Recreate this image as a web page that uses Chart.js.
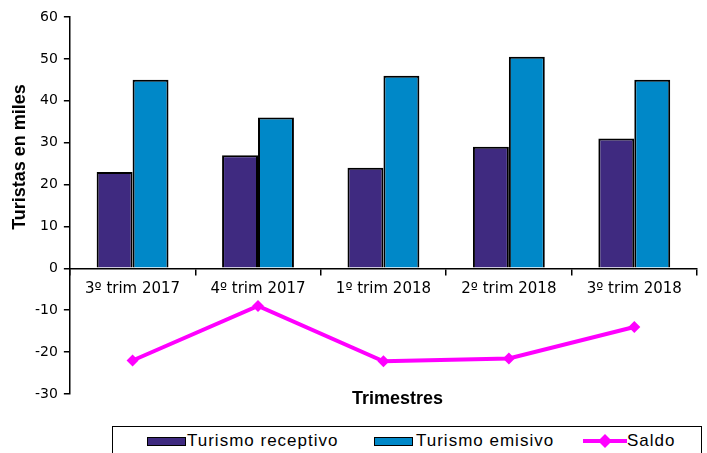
<!DOCTYPE html>
<html><head><meta charset="utf-8">
<script src="https://cdn.jsdelivr.net/npm/chart.js@4/dist/chart.umd.min.js"></script>
<style>
html,body{margin:0;padding:0;background:#fff;overflow:hidden;}
#wrap{position:relative;width:707px;height:453px;overflow:hidden;}
#c{position:absolute;left:0;top:0;}
#legend{position:absolute;left:112px;top:426px;width:590px;height:40px;border:1px solid #000;box-sizing:border-box;font-family:"Liberation Sans",Arial,sans-serif;font-size:17px;letter-spacing:1px;color:#000;background:#fff;}
.sw{position:absolute;top:10px;width:39px;height:9px;border:1px solid #000;box-sizing:border-box;}
.lt{position:absolute;top:5px;line-height:17px;white-space:nowrap;}
#sl{position:absolute;left:470px;top:7px;}
</style></head>
<body>
<div id="wrap">
<canvas id="c" width="707" height="453"></canvas>
<div id="legend">
  <div class="sw" id="sw1" style="left:34px;"></div><div class="lt" id="lt1" style="left:74px;"></div>
  <div class="sw" id="sw2" style="left:261px;"></div><div class="lt" id="lt2" style="left:303px;"></div>
  <svg id="sl" width="44" height="14"><line x1="0" y1="7" x2="44" y2="7" stroke="#FF00FF" stroke-width="4"/><polygon points="22,0 29,7 22,14 15,7" fill="#FF00FF"/></svg>
  <div class="lt" id="lt3" style="left:514px;"></div>
</div>
</div>
<script>
const categories = ['3º trim 2017','4º trim 2017','1º trim 2018','2º trim 2018','3º trim 2018'];
const seriesNames = ['Turismo receptivo','Turismo emisivo','Saldo'];
const receptivo = [23, 27, 24, 29, 31];
const emisivo = [45, 36, 46, 50.5, 45];
const saldo = [-22, -9, -22.2, -21.5, -14];
const yMin = -30, yMax = 60, yStep = 10;
const xTitle = 'Trimestres';
const yTitle = 'Turistas en miles';
const colors = ['#3F2A80', '#0088C8', '#FF00FF'];

document.getElementById('sw1').style.background = colors[0];
document.getElementById('sw2').style.background = colors[1];
document.getElementById('lt1').textContent = seriesNames[0];
document.getElementById('lt2').textContent = seriesNames[1];
document.getElementById('lt3').textContent = seriesNames[2];

const titlesPlugin = {
  id: 'titles',
  afterDraw(chart) {
    const ctx = chart.ctx, a = chart.chartArea;
    ctx.save();
    ctx.fillStyle = '#000';
    ctx.font = 'bold 18px "Liberation Sans", Arial, sans-serif';
    ctx.textAlign = 'center';
    ctx.textBaseline = 'middle';
    ctx.fillText(xTitle, (a.left + a.right) / 2 + 14, a.bottom + 5);
    ctx.translate(20, a.top + 140);
    ctx.rotate(-Math.PI / 2);
    ctx.fillText(yTitle, 0, 0);
    ctx.restore();
  }
};

new Chart(document.getElementById('c'), {
  type: 'bar',
  data: {
    labels: categories,
    datasets: [
      { type: 'line', label: seriesNames[2], data: saldo, order: 0,
        borderColor: colors[2], backgroundColor: colors[2], borderWidth: 4,
        pointStyle: 'rectRot', pointRadius: 6, pointBackgroundColor: colors[2],
        pointBorderColor: colors[2], pointBorderWidth: 0, tension: 0, fill: false },
      { label: seriesNames[0], data: receptivo, order: 1, backgroundColor: colors[0],
        borderColor: '#000', borderWidth: 2, categoryPercentage: 0.573, barPercentage: 1.0 },
      { label: seriesNames[1], data: emisivo, order: 1, backgroundColor: colors[1],
        borderColor: '#000', borderWidth: 2, categoryPercentage: 0.573, barPercentage: 1.0 }
    ]
  },
  options: {
    responsive: false,
    animation: false,
    devicePixelRatio: 1,
    layout: { padding: { left: 29, right: 10, top: 17, bottom: 59 } },
    plugins: { legend: { display: false }, tooltip: { enabled: false } },
    scales: {
      x: {
        type: 'category',
        position: { y: 0 },
        offset: true,
        grid: { offset: true, drawOnChartArea: false, drawTicks: true, tickLength: 6, color: '#000', lineWidth: 1.5 },
        border: { display: true, color: '#000', width: 1.5 },
        ticks: { color: '#000', font: { family: '"DejaVu Sans", sans-serif', size: 15 }, padding: 6, maxRotation: 0, autoSkip: false }
      },
      y: {
        min: yMin, max: yMax,
        grid: { drawOnChartArea: false, drawTicks: true, tickLength: 6, color: '#000', lineWidth: 1.5 },
        border: { display: true, color: '#000', width: 1.5 },
        ticks: { stepSize: yStep, color: '#000', font: { family: '"DejaVu Sans", sans-serif', size: 14 }, padding: 6 }
      }
    }
  },
  plugins: [titlesPlugin]
});
</script>
</body></html>
